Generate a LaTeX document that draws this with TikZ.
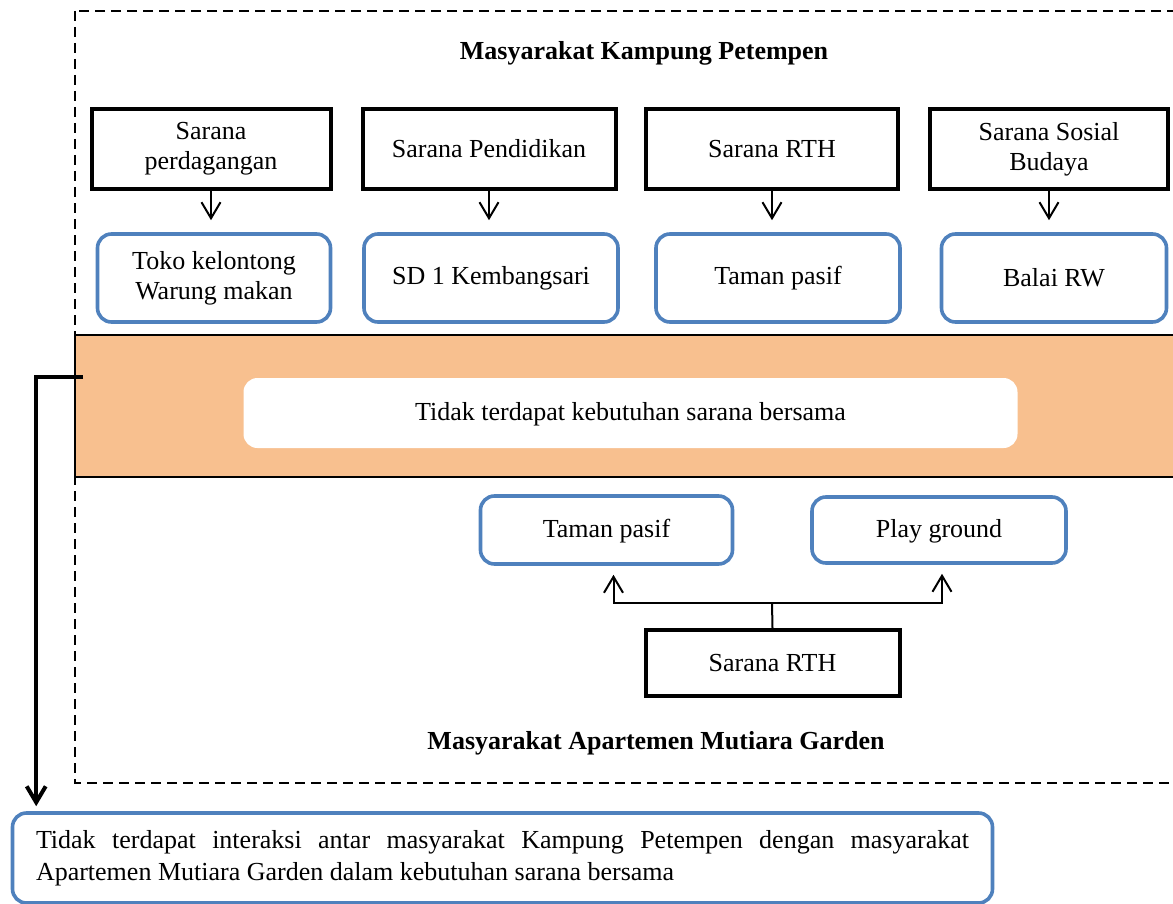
\documentclass[tikz,border=0pt]{standalone}
\usepackage{fontspec}
\setmainfont{Liberation Serif}
\usetikzlibrary{positioning, arrows.meta}
\definecolor{boxB}{HTML}{4F81BD}
\definecolor{bandO}{HTML}{F8C08F}

\begin{document}
\begin{tikzpicture}[x=0.5pt, y=-0.5pt, font=\fontsize{13}{15}\selectfont,
   fac/.style={draw, line width=2pt, minimum height=40pt, align=center, inner sep=2pt},
   ex/.style={draw=boxB, line width=1.8pt, rounded corners=7pt, minimum height=44pt,
              align=center, fill=white},
   arr/.style={-{Straight Barb[length=8pt, width=9.5pt]}, line width=1pt}]
  \useasboundingbox (0,0) rectangle (1173,904);
  % dashed frame and shared band
  \draw[line width=1pt, dash pattern=on 5pt off 3pt] (75,11) rectangle (1190,783);
  \draw[fill=bandO, line width=0.6pt] (75,335) rectangle (1190,477);
  \node[fill=white, rounded corners=7pt, minimum width=387pt, minimum height=35pt, text depth=2pt]
    (none) at (630.5,413) {Tidak terdapat kebutuhan sarana bersama};
  % kampung side
  \node[font=\fontsize{13}{15}\selectfont\bfseries] (kampung) at (644,53) {Masyarakat Kampung Petempen};
  \foreach \xa/\wa/\ta/\xb/\wb/\tb [count=\j] in {%
    211/119.5/{Sarana\\perdagangan}/214/116.5/{Toko kelontong\\Warung makan},%
    489/126.5/{Sarana Pendidikan}/491/127/{SD 1 Kembangsari},%
    772/126/{Sarana RTH}/778/122/{Taman pasif},%
    1049/119/{Sarana Sosial\\Budaya}/1054/112.5/{Balai RW}}{%
      \node[fac, minimum width=\wa pt] (fac\j) at (\xa,149) {\ta};
      \node[ex, minimum width=\wb pt] (ex\j) at (\xb,278) {\tb};
      \draw[arr, shorten >=6pt] (fac\j.south) -- (fac\j.south |- ex\j.north);
  }
  % apartemen side
  \node[ex, minimum width=126pt, minimum height=34pt, text depth=2pt] (park) at (606.5,530) {Taman pasif};
  \node[ex, minimum width=127pt, minimum height=33pt, text depth=2pt] (play) at (939,530) {Play ground};
  \node[fac, minimum width=127pt, minimum height=33pt] (rth) at (772.5,663) {Sarana RTH};
  \coordinate (split) at (772,603);
  \draw[line width=1pt] (rth.north) -- (split);
  \draw[arr, shorten >=4.5pt] (split) -| ([xshift=3.5pt]park.south);
  \draw[arr, shorten >=4.5pt] (split) -| ([xshift=1.5pt]play.south);
  \node[font=\fontsize{13}{15}\selectfont\bfseries] (apart) at (656,743) {Masyarakat Apartemen Mutiara Garden};
  % conclusion
  \node[ex, minimum width=490pt, minimum height=45pt, text width=466.5pt, align=justify, inner sep=0pt,
        font=\fontsize{13}{16}\selectfont]
    (verdict) at (502.5,858) {Tidak terdapat interaksi antar masyarakat Kampung Petempen dengan masyarakat\linebreak
    Apartemen Mutiara Garden dalam kebutuhan sarana bersama};
  \coordinate (tap) at (83,377);
  \draw[arr, line width=2pt, shorten >=2.5pt] (tap) -| ([xshift=12.75pt]verdict.north west);
\end{tikzpicture}
\end{document}
